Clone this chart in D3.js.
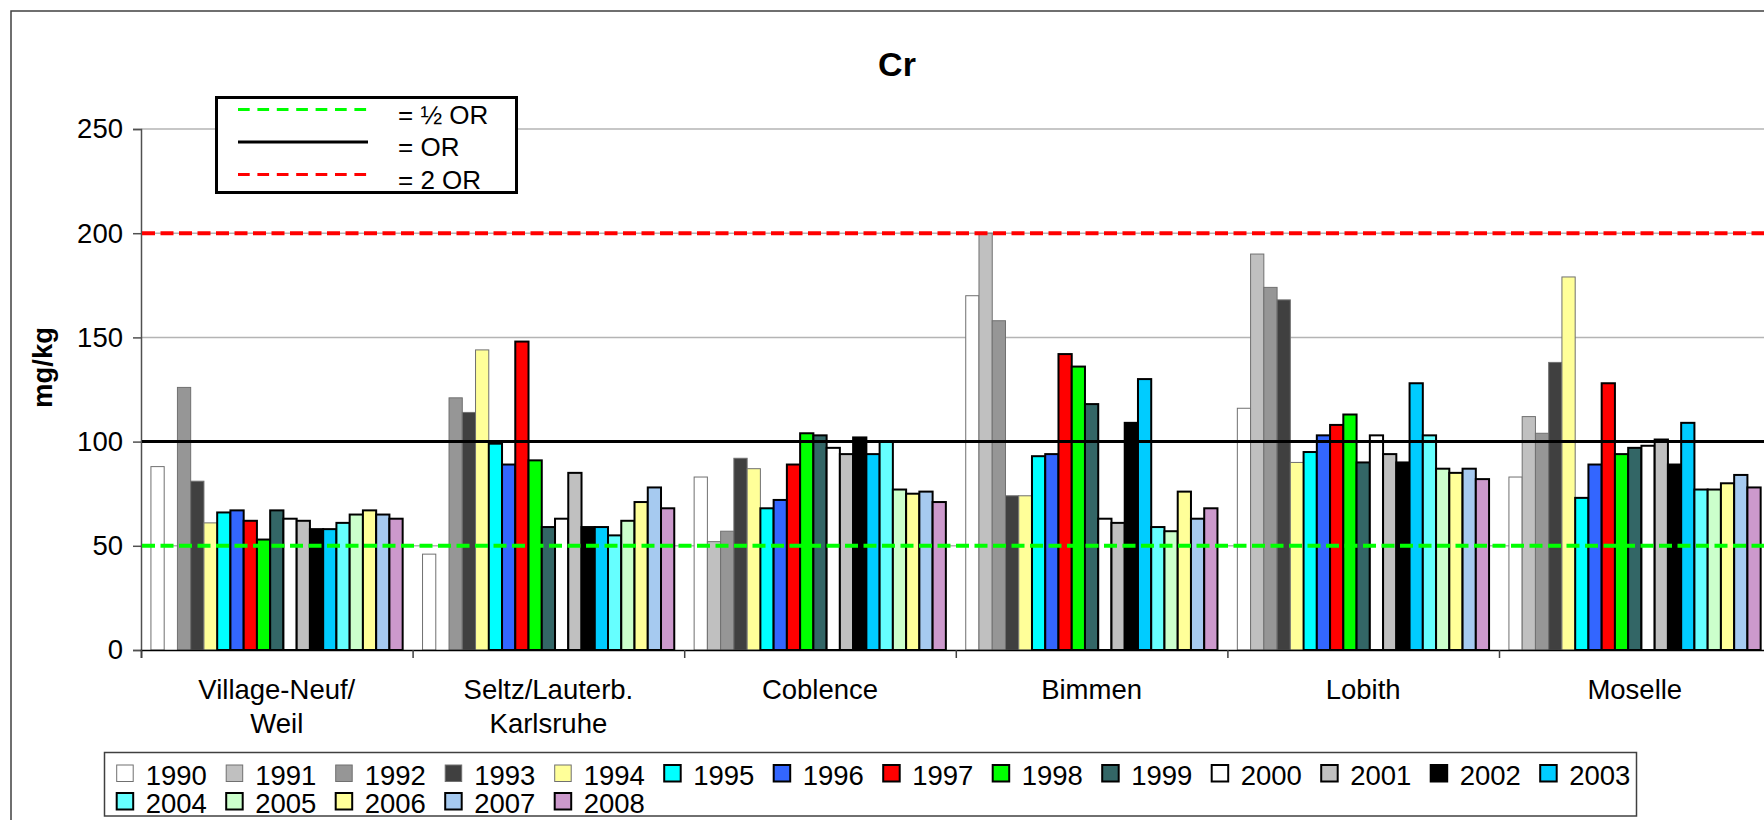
<!DOCTYPE html>
<html lang="de">
  <head>
    <meta charset="utf-8" />
    <title>Cr</title>
    <script src="https://cdn.jsdelivr.net/npm/d3@7"></script>
    <style type="text/css">
      html,
      body {
        margin: 0;
        padding: 0;
        background: #ffffff;
      }
      svg {
        display: block;
        font-family: "Liberation Sans", Arial, sans-serif;
      }
    </style>
  </head>

  <body>
    <div id="chart"></div>

    <script type="text/javascript">
      /*******************************************
       * data
       *******************************************/

      const categories = [
        "Village-Neuf/\nWeil",
        "Seltz/Lauterb.\nKarlsruhe",
        "Coblence",
        "Bimmen",
        "Lobith",
        "Moselle",
      ];

      const years = [
        "1990", "1991", "1992", "1993", "1994", "1995", "1996", "1997",
        "1998", "1999", "2000", "2001", "2002", "2003", "2004", "2005",
        "2006", "2007", "2008",
      ];

      // mg/kg per year, one array per station (null = no value)
      const villageNeufWeil = [88, null, 126, 81, 61, 66, 67, 62, 53, 67, 63, 62, 58, 58, 61, 65, 67, 65, 63];
      const seltzKarlsruhe = [46, null, 121, 114, 144, 99, 89, 148, 91, 59, 63, 85, 59, 59, 55, 62, 71, 78, 68];
      const coblence = [83, 52, 57, 92, 87, 68, 72, 89, 104, 103, 97, 94, 102, 94, 100, 77, 75, 76, 71];
      const bimmen = [170, 200, 158, 74, 74, 93, 94, 142, 136, 118, 63, 61, 109, 130, 59, 57, 76, 63, 68];
      const lobith = [116, 190, 174, 168, 90, 95, 103, 108, 113, 90, 103, 94, 90, 128, 103, 87, 85, 87, 82];
      const moselle = [83, 112, 104, 138, 179, 73, 89, 128, 94, 97, 98, 101, 89, 109, 77, 77, 80, 84, 78];

      const stationValues = [villageNeufWeil, seltzKarlsruhe, coblence, bimmen, lobith, moselle];

      const yTicks = [0, 50, 100, 150, 200, 250];

      // reference levels
      const halfOR = 50;
      const OR = 100;
      const twoOR = 200;

      const yearColors = [
        "#ffffff", "#c0c0c0", "#969696", "#404040", "#ffff99", "#00ffff",
        "#3366ff", "#ff0000", "#00ff00", "#336666", "#ffffff", "#c0c0c0",
        "#000000", "#00ccff", "#66ffff", "#ccffcc", "#ffff99", "#a6caf0",
        "#cc99cc",
      ];

      /********************************************
       * svg
       ********************************************/

      const width = 1764;
      const height = 820;
      const plot = { left: 141, top: 129, bottom: 650, groupWidth: 271.6 };
      const font = 27.5;

      const svg = d3
        .select("div#chart")
        .append("svg")
        .attr("width", width)
        .attr("height", height);

      // chart frame (runs off the right / bottom edge)
      svg
        .append("rect")
        .attr("x", 11)
        .attr("y", 11)
        .attr("width", 1900)
        .attr("height", 1000)
        .attr("fill", "none")
        .attr("stroke", "#404040")
        .attr("stroke-width", 1.5);

      /*********************************************
       * scales
       **********************************************/

      const x0 = d3
        .scaleBand()
        .domain(categories)
        .range([plot.left, plot.left + categories.length * plot.groupWidth])
        .padding(0);

      // gap width 150 % -> outer padding of 0.75 bar
      const x1 = d3
        .scaleBand()
        .domain(years)
        .range([0, x0.bandwidth()])
        .paddingInner(0)
        .paddingOuter(0.75);

      const y = d3.scaleLinear().domain([0, 250]).range([plot.bottom, plot.top]);

      const color = d3.scaleOrdinal().domain(years).range(yearColors);

      // thin grey outline for the first five years, black for the rest
      const thinYear = (yr) => +yr <= 1994;

      /*******************************************
       * grid + axes
       *******************************************/

      svg
        .append("g")
        .selectAll("line")
        .data(yTicks.filter((d) => d > 0))
        .enter()
        .append("line")
        .attr("x1", plot.left)
        .attr("x2", width + 20)
        .attr("y1", (d) => y(d))
        .attr("y2", (d) => y(d))
        .attr("stroke", "#b4b4b4")
        .attr("stroke-width", 1.5);

      const yAxis = d3
        .axisLeft(y)
        .tickValues(yTicks)
        .tickSize(8)
        .tickPadding(10)
        .tickFormat(d3.format("d"));

      const gy = svg
        .append("g")
        .attr("transform", `translate(${plot.left}, 0)`)
        .call(yAxis);
      gy.select(".domain").attr("stroke", "#505050").attr("stroke-width", 1.5);
      gy.selectAll(".tick line").attr("stroke", "#505050").attr("stroke-width", 1.5);
      gy.selectAll(".tick text")
        .attr("font-size", font)
        .attr("font-family", "Liberation Sans, Arial, sans-serif")
        .attr("fill", "#000");

      // y axis title
      svg
        .append("text")
        .attr("transform", `translate(52, ${(plot.top + plot.bottom) / 2 - 22}) rotate(-90)`)
        .attr("text-anchor", "middle")
        .attr("font-size", font)
        .attr("font-weight", "bold")
        .text("mg/kg");

      // title
      svg
        .append("text")
        .attr("x", 897)
        .attr("y", 76)
        .attr("text-anchor", "middle")
        .attr("font-size", 34)
        .attr("font-weight", "bold")
        .text("Cr");

      /*******************************************
       * bars
       *******************************************/

      const groups = svg
        .append("g")
        .selectAll("g.station")
        .data(categories)
        .enter()
        .append("g")
        .attr("class", "station")
        .attr("transform", (d) => `translate(${x0(d)}, 0)`);

      groups
        .selectAll("rect")
        .data((d, i) =>
          years
            .map((yr, j) => ({ year: yr, value: stationValues[i][j] }))
            .filter((e) => e.value !== null)
        )
        .enter()
        .append("rect")
        .attr("x", (d) => x1(d.year))
        .attr("y", (d) => y(d.value))
        .attr("width", x1.bandwidth())
        .attr("height", (d) => y(0) - y(d.value))
        .attr("fill", (d) => color(d.year))
        .attr("stroke", (d) => (thinYear(d.year) ? "#707070" : "#000"))
        .attr("stroke-width", (d) => (thinYear(d.year) ? 1 : 2));

      // x axis: line + boundary ticks
      const xEdge = d3
        .scaleLinear()
        .domain([0, categories.length])
        .range(x0.range());

      const gx = svg
        .append("g")
        .attr("transform", `translate(0, ${plot.bottom})`)
        .call(
          d3
            .axisBottom(xEdge)
            .tickValues(d3.range(categories.length + 1))
            .tickSize(8)
            .tickFormat("")
        );
      gx.select(".domain").attr("stroke", "#000").attr("stroke-width", 1.5);
      gx.selectAll(".tick line").attr("stroke", "#404040").attr("stroke-width", 1.5);

      // category labels (two lines where needed)
      const catLabels = svg
        .append("g")
        .selectAll("text")
        .data(categories)
        .enter()
        .append("text")
        .attr("x", (d) => x0(d) + x0.bandwidth() / 2)
        .attr("y", 699)
        .attr("text-anchor", "middle")
        .attr("font-size", font);
      catLabels
        .selectAll("tspan")
        .data((d) => d.split("\n"))
        .enter()
        .append("tspan")
        .attr("x", function () {
          return this.parentNode.getAttribute("x");
        })
        .attr("dy", (d, i) => (i === 0 ? 0 : 34))
        .text((d) => d);

      /*******************************************
       * reference lines (drawn over the bars)
       *******************************************/

      const refLines = [
        { value: halfOR, color: "#00ff00", dash: "13 5.5" },
        { value: OR, color: "#000000", dash: null },
        { value: twoOR, color: "#ff0000", dash: "13 5.5" },
      ];

      svg
        .append("g")
        .selectAll("line")
        .data(refLines)
        .enter()
        .append("line")
        .attr("x1", plot.left + 1)
        .attr("x2", width + 20)
        .attr("y1", (d) => y(d.value))
        .attr("y2", (d) => y(d.value))
        .attr("stroke", (d) => d.color)
        .attr("stroke-width", (d) => (d.dash ? 4 : 3))
        .attr("stroke-dasharray", (d) => d.dash);

      /*******************************************
       * legend for reference lines
       *******************************************/

      const refLegend = svg.append("g");
      refLegend
        .append("rect")
        .attr("x", 216.5)
        .attr("y", 97.5)
        .attr("width", 300)
        .attr("height", 95)
        .attr("fill", "#fff")
        .attr("stroke", "#000")
        .attr("stroke-width", 3);

      const refLabels = ["= \u00bd OR", "= OR", "= 2 OR"];
      const refRows = refLegend
        .selectAll("g.row")
        .data(refLines)
        .enter()
        .append("g")
        .attr("class", "row")
        .attr("transform", (d, i) => `translate(0, ${109.5 + i * 32.5})`);
      refRows
        .append("line")
        .attr("x1", 238)
        .attr("x2", 368)
        .attr("stroke", (d) => d.color)
        .attr("stroke-width", 3)
        .attr("stroke-dasharray", (d) => (d.dash ? "11.7 7.7" : null));
      refRows
        .append("text")
        .attr("x", 398)
        .attr("y", 14)
        .attr("font-size", 26)
        .text((d, i) => refLabels[i]);

      /*******************************************
       * year legend
       *******************************************/

      const legend = svg.append("g");
      legend
        .append("rect")
        .attr("x", 104.5)
        .attr("y", 752.5)
        .attr("width", 1532)
        .attr("height", 63.5)
        .attr("fill", "#fff")
        .attr("stroke", "#404040")
        .attr("stroke-width", 1.5);

      const perRow = 14;
      const items = legend
        .selectAll("g.item")
        .data(years)
        .enter()
        .append("g")
        .attr("class", "item")
        .attr(
          "transform",
          (d, i) =>
            `translate(${116.7 + (i % perRow) * 109.5}, ${765 + Math.floor(i / perRow) * 28})`
        );
      items
        .append("rect")
        .attr("width", 16.5)
        .attr("height", 16.5)
        .attr("fill", (d) => color(d))
        .attr("stroke", (d) => (thinYear(d) ? "#707070" : "#000"))
        .attr("stroke-width", (d) => (thinYear(d) ? 1 : 2));
      items
        .append("text")
        .attr("x", 29)
        .attr("y", 20)
        .attr("font-size", font)
        .text((d) => d);
    </script>
  </body>
</html>
